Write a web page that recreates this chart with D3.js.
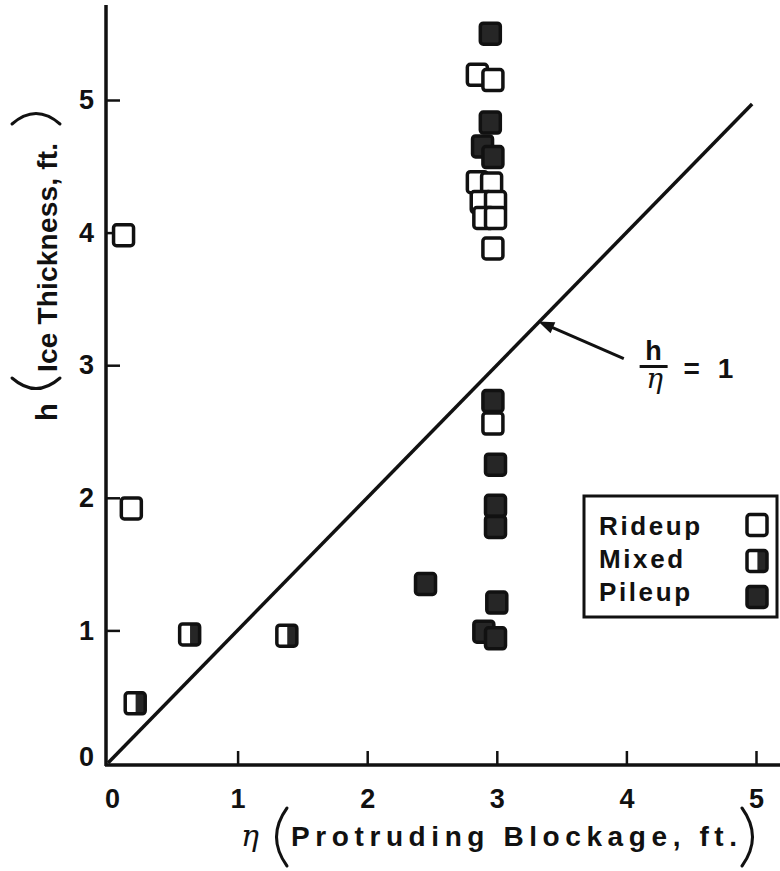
<!DOCTYPE html>
<html>
<head>
<meta charset="utf-8">
<script src="https://cdn.jsdelivr.net/npm/d3@7/dist/d3.min.js"></script>
<style>
  body { margin: 0; background: #fff; }
  svg text { font-family: "Liberation Sans", Arial, sans-serif; font-weight: bold; fill: #111; }
</style>
</head>
<body>
<svg id="chart" width="780" height="871"></svg>
<script>
// tick values
const xTicks = [0, 1, 2, 3, 4, 5];
const yTicks = [0, 1, 2, 3, 4, 5];

// Rideup (open squares)
const rideupEta = [0.12, 0.18, 2.85, 2.97, 2.85, 2.96, 2.88, 2.99, 2.90, 2.99, 2.97, 2.97];
const rideupH   = [3.98, 1.92, 5.19, 5.15, 4.38, 4.37, 4.23, 4.23, 4.11, 4.11, 3.88, 2.56];

// Mixed (half filled)
const mixedEta = [0.63, 1.38, 0.21];
const mixedH   = [0.97, 0.96, 0.45];

// Pileup (filled)
const pileupEta = [2.95, 2.95, 2.89, 2.97, 2.97, 2.99, 2.99, 2.99, 3.00, 2.90, 2.99, 2.45];
const pileupH   = [5.50, 4.83, 4.65, 4.57, 2.73, 2.25, 1.94, 1.78, 1.21, 0.99, 0.94, 1.35];

// h / eta = 1 line
const ratioLine = [[0, 0], [4.97, 4.97]];

const legendItems = ['Rideup', 'Mixed', 'Pileup'];

const svg = d3.select('#chart');
const x = d3.scaleLinear().domain([0, 5]).range([108, 756]);
const y = d3.scaleLinear().domain([0, 5]).range([763, 100]);
const axisX0 = 106, axisY0 = 765;

const ink = '#111';
const fillDark = '#262626';
const symW = 20, symH = 21;
const serif = '"DejaVu Serif", "Liberation Serif", serif';

// axes lines
svg.append('line').attr('x1', axisX0).attr('y1', axisY0 + 1).attr('x2', axisX0).attr('y2', 5)
  .attr('stroke', ink).attr('stroke-width', 3.5);
svg.append('line').attr('x1', axisX0 - 1).attr('y1', axisY0).attr('x2', 780).attr('y2', axisY0)
  .attr('stroke', ink).attr('stroke-width', 3.5);

// x axis ticks + labels
const gx = svg.append('g').attr('transform', `translate(0,${axisY0})`)
  .call(d3.axisBottom(x).tickValues(xTicks).tickSize(-14).tickPadding(24).tickFormat(d3.format('d')));
gx.select('.domain').remove();
gx.selectAll('.tick line').attr('stroke', ink).attr('stroke-width', 2.5)
  .attr('opacity', d => d === 0 ? 0 : 1);
gx.selectAll('.tick text').attr('font-size', 27).attr('fill', ink).attr('dx', d => d === 0 ? 4 : 0);

// y axis ticks + labels
const gy = svg.append('g').attr('transform', `translate(${axisX0},0)`)
  .call(d3.axisLeft(y).tickValues(yTicks).tickSize(-14).tickPadding(12).tickFormat(d3.format('d')));
gy.select('.domain').remove();
gy.selectAll('.tick line').attr('stroke', ink).attr('stroke-width', 2.5)
  .attr('opacity', d => d === 0 ? 0 : 1);
gy.selectAll('.tick text').attr('font-size', 27).attr('fill', ink)
  .attr('dy', d => d === 0 ? '0.1em' : '0.32em');

// h/eta = 1 line
svg.append('path')
  .datum(ratioLine)
  .attr('d', d3.line().x(d => x(d[0])).y(d => y(d[1])))
  .attr('stroke', ink).attr('stroke-width', 3.5).attr('fill', 'none');

// symbols
function drawSymbol(g, cx, cy, kind) {
  const s = g.append('g').attr('transform', `translate(${cx - symW / 2},${cy - symH / 2})`);
  s.append('rect').attr('width', symW).attr('height', symH).attr('rx', 3)
    .attr('fill', kind === 'Pileup' ? fillDark : '#fff');
  if (kind === 'Mixed') {
    s.append('rect').attr('x', symW * 0.52).attr('width', symW * 0.48).attr('height', symH)
      .attr('fill', fillDark);
  }
  s.append('rect').attr('width', symW).attr('height', symH).attr('rx', 3)
    .attr('fill', 'none').attr('stroke', ink).attr('stroke-width', 3.5);
}

const marks = svg.append('g');
pileupEta.forEach((e, i) => drawSymbol(marks, x(e), y(pileupH[i]), 'Pileup'));
rideupEta.forEach((e, i) => drawSymbol(marks, x(e), y(rideupH[i]), 'Rideup'));
mixedEta.forEach((e, i) => drawSymbol(marks, x(e), y(mixedH[i]), 'Mixed'));

// legend
const lg = svg.append('g');
lg.append('rect').attr('x', 584).attr('y', 496).attr('width', 193).attr('height', 121)
  .attr('fill', '#fff').attr('stroke', ink).attr('stroke-width', 3);
legendItems.forEach((name, i) => {
  lg.append('text').attr('x', 599).attr('y', 535 + i * 33).attr('font-size', 26)
    .attr('letter-spacing', 2.6).text(name);
  drawSymbol(lg, 757, 525 + i * 36, name);
});

// annotation h/eta = 1
const tip = [x(3.32), y(3.33)], tail = [x(3.98), y(3.05)];
const ang = Math.atan2(tail[1] - tip[1], tail[0] - tip[0]);
svg.append('line').attr('x1', tail[0]).attr('y1', tail[1])
  .attr('x2', tip[0] + 10 * Math.cos(ang)).attr('y2', tip[1] + 10 * Math.sin(ang))
  .attr('stroke', ink).attr('stroke-width', 3);
const ah = 16, aw = 6;
svg.append('path')
  .attr('d', `M${tip[0]},${tip[1]}
    L${tip[0] + ah * Math.cos(ang) - aw * Math.sin(ang)},${tip[1] + ah * Math.sin(ang) + aw * Math.cos(ang)}
    L${tip[0] + ah * Math.cos(ang) + aw * Math.sin(ang)},${tip[1] + ah * Math.sin(ang) - aw * Math.cos(ang)}Z`)
  .attr('fill', ink);

const fx = x(4.21), fy = y(2.99);
svg.append('text').attr('x', fx).attr('y', fy - 7).attr('text-anchor', 'middle')
  .attr('font-size', 27).text('h');
svg.append('line').attr('x1', fx - 14).attr('x2', fx + 14).attr('y1', fy).attr('y2', fy)
  .attr('stroke', ink).attr('stroke-width', 3);
svg.append('text').attr('x', fx + 1).attr('y', fy + 21).attr('text-anchor', 'middle')
  .attr('font-size', 28).style('font-style', 'italic').style('font-weight', 'normal')
  .style('font-family', serif).text('η');
svg.append('text').attr('x', fx + 30).attr('y', fy + 11).attr('font-size', 28)
  .attr('letter-spacing', 5).text('= 1');

// parentheses drawn as thin arcs
function paren(x1, y1, x2, y2, bx, by) {
  svg.append('path').attr('d', `M${x1},${y1} Q${bx},${by} ${x2},${y2}`)
    .attr('fill', 'none').attr('stroke', ink).attr('stroke-width', 3).attr('stroke-linecap', 'round');
}

// x axis title
svg.append('text').attr('x', 250).attr('y', 846).attr('text-anchor', 'middle')
  .attr('font-size', 30).style('font-style', 'italic').style('font-weight', 'normal')
  .style('font-family', serif).text('η');
paren(287, 808, 287, 866, 266, 837);
svg.append('text').attr('x', 291).attr('y', 846).attr('font-size', 28)
  .attr('textLength', 446).attr('lengthAdjust', 'spacing').text('Protruding  Blockage,  ft.');
paren(742, 808, 742, 866, 763, 837);

// y axis title (rotated)
const yt = svg.append('g').attr('transform', 'translate(57,0) rotate(-90)');
yt.append('text').attr('x', -421).attr('y', 0).attr('font-size', 29).text('h');
paren(12, 378, 60, 378, 36, 399);
yt.append('text').attr('x', -372).attr('y', 0).attr('font-size', 28)
  .attr('textLength', 229).attr('lengthAdjust', 'spacing').text('Ice Thickness, ft.');
paren(12, 124, 60, 124, 36, 103);
</script>
</body>
</html>
